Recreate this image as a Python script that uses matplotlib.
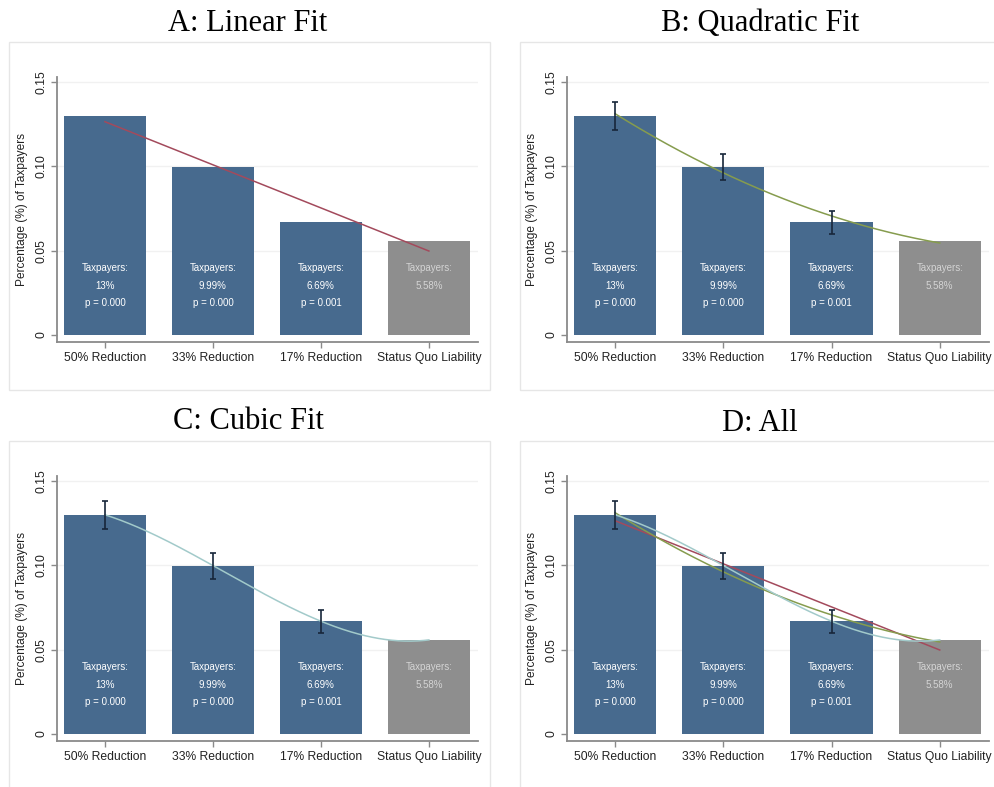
import numpy as np
import matplotlib
matplotlib.use("Agg")
import matplotlib.pyplot as plt
from matplotlib.patches import Rectangle

plt.rcParams['font.family'] = ['Liberation Sans', 'DejaVu Sans']

# data
categories = ["50% Reduction", "33% Reduction", "17% Reduction", "Status Quo Liability"]
shares = [0.130, 0.0999, 0.0669, 0.0558]
ci_low = [0.1215, 0.0920, 0.0600]
ci_high = [0.1380, 0.1075, 0.0735]
pct_labels = ["13%", "9.99%", "6.69%", "5.58%"]
p_labels = ["p = 0.000", "p = 0.000", "p = 0.001", ""]
y_ticks = [0, 0.05, 0.10, 0.15]
y_tick_labels = ["0", "0.05", "0.10", "0.15"]

titles = ["A: Linear Fit", "B: Quadratic Fit", "C: Cubic Fit", "D: All"]
fit_degrees = [[1], [2], [3], [1, 2, 3]]
show_ci = [False, True, True, True]

BLUE = "#476a8e"
GREY = "#8e8e8e"
FIT_COLORS = {1: "#a34a5c", 2: "#869c4e", 3: "#a2caca"}

W, H = 995, 787
fig = plt.figure(figsize=(W / 100, H / 100), dpi=100)


def frac_rect(left, top, right, bottom):
    return [left / W, 1 - bottom / H, (right - left) / W, (bottom - top) / H]


# pixel layout: axes box, title baseline, outer frame
layout = [
    dict(ax=(57, 77, 478, 342), title=(248, 31), frame=(9, 42, 490, 390)),
    dict(ax=(567, 77, 989, 342), title=(760, 31), frame=(520, 42, 1000, 390)),
    dict(ax=(57, 476, 478, 741), title=(248, 429), frame=(9, 441, 490, 792)),
    dict(ax=(567, 476, 989, 741), title=(760, 431), frame=(520, 441, 1000, 792)),
]

x = np.arange(len(categories))
bar_colors = [BLUE, BLUE, BLUE, GREY]
text_colors = ["white", "white", "white", "#d4d4d4"]

for i, lay in enumerate(layout):
    fl, ft, fr, fb = lay["frame"]
    fig.patches.append(Rectangle((fl / W, 1 - fb / H), (fr - fl) / W, (fb - ft) / H,
                                 transform=fig.transFigure, fill=False,
                                 edgecolor="#e6e6e6", linewidth=1.0))
    tx, ty = lay["title"]
    fig.text(tx / W, 1 - ty / H, titles[i], ha="center", va="baseline",
             fontsize=22, family="Liberation Serif")

    ax = fig.add_axes(frac_rect(*lay["ax"]))
    ax.set_xlim(-0.444, 3.455)
    ax.set_ylim(-0.00415, 0.153)
    for y in y_ticks[1:]:
        ax.axhline(y, color="#f1f1f1", linewidth=1.0, zorder=0)

    ax.bar(x, shares, width=0.76, color=bar_colors, zorder=2)

    if show_ci[i]:
        n = len(ci_low)
        mid = np.array(shares[:n])
        err = [mid - np.array(ci_low), np.array(ci_high) - mid]
        ax.errorbar(x[:n], mid, yerr=err, fmt="none", ecolor="#17263a",
                    elinewidth=1.2, capsize=2.5, capthick=1.2, zorder=4)

    xs = np.linspace(0, 3, 200)
    for d in fit_degrees[i]:
        coef = np.polyfit(x, shares, d)
        ax.plot(xs, np.polyval(coef, xs), color=FIT_COLORS[d], linewidth=1.1, zorder=3)

    for j in range(len(categories)):
        ax.text(x[j], 0.0397, "Taxpayers:", ha="center", va="center",
                fontsize=7, color=text_colors[j], zorder=5)
        ax.text(x[j], 0.0293, pct_labels[j], ha="center", va="center",
                fontsize=7, color=text_colors[j], zorder=5)
        if p_labels[j]:
            ax.text(x[j], 0.0190, p_labels[j], ha="center", va="center",
                    fontsize=7, color=text_colors[j], zorder=5)

    ax.set_xticks(x)
    ax.set_xticklabels(categories, fontsize=8.7, color="#222222")
    ax.set_yticks(y_ticks)
    ax.set_yticklabels(y_tick_labels, fontsize=8.7, color="#222222",
                       rotation=90, va="center")
    ax.tick_params(axis="both", length=4, width=1.0, color="#8a8a8a", pad=3)
    ax.set_ylabel("Percentage (%) of Taxpayers", fontsize=8.6, color="#222222")
    ax.yaxis.set_label_coords(-29 / 421, 0.5)

    for side in ["top", "right"]:
        ax.spines[side].set_visible(False)
    for side in ["left", "bottom"]:
        ax.spines[side].set_color("#8a8a8a")
        ax.spines[side].set_linewidth(1.3)
    ax.set_facecolor("white")

fig.savefig("out.png", dpi=100)
